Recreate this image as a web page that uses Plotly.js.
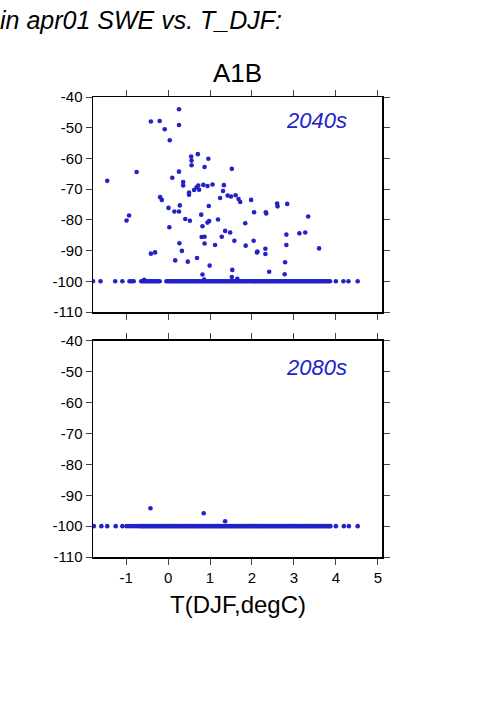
<!DOCTYPE html>
<html>
<head>
<meta charset="utf-8">
<script src="https://cdn.plot.ly/plotly-3.0.1.min.js"></script>
<style>html,body{margin:0;padding:0;background:#fff;}#chart{width:501px;height:709px;}</style>
</head>
<body>
<div id="chart"></div>
<script>
// ---- data ----
const floorValue = -100;

// 2040s: scattered points above the floor
const x2040 = [-1.45,-0.99,-0.93,-0.75,-0.57,-0.41,-0.20,-0.41,-0.31,-0.08,
  0.04,-0.19,-0.15,0.01,0.03,0.10,0.15,0.26,0.28,0.26,
  0.26,0.26,0.27,0.33,0.36,0.36,0.17,0.41,0.47,0.50,
  0.50,0.52,0.55,0.56,0.56,0.62,0.68,0.72,0.74,0.71,
  0.69,0.79,0.82,0.80,0.87,0.87,0.82,0.84,0.87,0.94,
  0.96,0.97,0.94,0.98,0.99,1.06,0.86,1.12,1.19,1.24,
  1.33,1.31,1.36,1.42,1.48,1.50,1.28,1.52,1.61,1.58,
  1.53,1.52,1.68,1.72,1.84,1.85,1.98,2.04,2.05,2.12,
  2.13,2.33,2.34,2.32,2.32,2.41,2.60,2.61,2.84,2.82,
  2.82,2.79,2.78,3.13,3.27,3.34,3.60,1.65];
const y2040 = [-67.3,-80.2,-78.6,-64.4,-99.5,-48.0,-47.8,-91.0,-90.6,-50.5,
  -54.1,-72.6,-73.5,-76.1,-82.4,-66.3,-77.3,-77.3,-75.3,-44.0,
  -49.1,-64.3,-87.6,-90.1,-67.7,-68.8,-93.2,-79.7,-93.6,-71.1,
  -71.8,-80.3,-59.4,-60.7,-62.2,-70.3,-69.4,-68.8,-70.2,-58.6,
  -92.4,-78.3,-82.1,-85.6,-85.5,-87.7,-97.8,-68.6,-62.8,-69.0,
  -60.1,-75.5,-80.9,-80.4,-94.9,-68.5,-99.4,-88.2,-79.9,-72.9,
  -68.7,-70.6,-83.6,-72.1,-84.1,-72.4,-85.5,-63.4,-72.0,-86.8,
  -96.3,-98.6,-73.2,-74.2,-81.1,-88.4,-73.5,-86.8,-77.5,-90.6,
  -90.3,-77.5,-77.9,-89.4,-91.1,-96.9,-74.7,-75.6,-74.8,-84.8,
  -88.2,-93.8,-97.7,-84.4,-84.1,-78.9,-89.3,-99.2];

// 2040s: points sitting on the -100 floor
const floorX2040 = [-1.79,-1.61,-1.26,-1.09,-0.92,-0.87,-0.82,-0.64,-0.6,-0.56,-0.53,-0.49,-0.45,-0.42,-0.38,-0.35,-0.31,-0.27,-0.24,-0.2,
  -0.04,0.0,0.03,0.07,0.1,0.14,0.18,0.21,0.25,0.28,0.32,0.36,0.39,0.43,0.46,0.5,0.54,0.57,0.61,0.65,0.68,0.72,0.75,0.79,0.83,0.86,0.9,0.94,0.97,
  1.01,1.04,1.08,1.12,1.15,1.19,1.22,1.26,1.3,1.33,1.37,1.41,1.44,1.48,1.51,1.55,1.59,1.62,1.66,1.7,1.73,1.77,1.8,1.84,1.88,1.91,1.95,1.99,
  2.02,2.06,2.09,2.13,2.17,2.2,2.24,2.27,2.31,2.35,2.38,2.42,2.46,2.49,2.53,2.56,2.6,2.64,2.67,2.71,2.75,2.78,2.82,2.85,2.89,2.93,2.96,
  3.0,3.03,3.07,3.11,3.14,3.18,3.22,3.25,3.29,3.33,3.36,3.4,3.44,3.47,3.51,3.55,3.58,3.62,3.66,3.7,3.74,3.78,3.82,3.86,4.0,4.18,4.3,4.52];

// 2080s
const x2080 = [-0.42, 0.85, 1.36];
const y2080 = [-94.2, -95.8, -98.4];
const floorX2080 = [-1.77,-1.59,-1.45,-1.25,-1.09,-0.99,-0.93,-0.87,-0.81,-0.75,-0.69,-0.65,-0.61,-0.58,-0.54,-0.5,-0.47,-0.43,-0.39,-0.36,
  -0.32,-0.28,-0.25,-0.21,-0.17,-0.14,-0.1,-0.06,-0.03,0.01,0.05,0.08,0.12,0.16,0.19,0.23,0.27,0.3,0.34,0.38,0.41,0.45,0.49,0.52,0.56,0.6,
  0.63,0.67,0.71,0.74,0.78,0.82,0.85,0.89,0.93,0.96,1.0,1.04,1.07,1.11,1.15,1.18,1.22,1.26,1.29,1.33,1.37,1.4,1.44,1.48,1.51,1.55,1.59,
  1.62,1.66,1.7,1.73,1.77,1.81,1.84,1.88,1.92,1.95,1.99,2.03,2.06,2.1,2.14,2.17,2.21,2.25,2.28,2.32,2.36,2.39,2.43,2.47,2.5,2.54,2.58,
  2.61,2.65,2.69,2.72,2.76,2.8,2.83,2.87,2.91,2.94,2.98,3.02,3.05,3.09,3.13,3.16,3.2,3.24,3.27,3.31,3.35,3.38,3.42,3.46,3.49,3.53,3.57,
  3.6,3.64,3.68,3.72,3.76,3.8,3.84,3.87,4.0,4.19,4.31,4.52];

const yTicks = [-110,-100,-90,-80,-70,-60,-50,-40];
const xTicks = [-1,0,1,2,3,4,5];
const panelLabels = ['2040s','2080s'];
const scenario = 'A1B';
const xLabel = 'T(DJF,degC)';
const topText = 'in apr01 SWE vs. T_DJF:';

// ---- drawing ----
const dotColor = '#2222c8';
const mk = {color: dotColor, size: 4.6};
const traces = [
  {x: floorX2040, y: new Array(floorX2040.length).fill(floorValue), xaxis:'x2', yaxis:'y', type:'scatter', mode:'markers', marker: mk, hoverinfo:'none'},
  {x: x2040, y: y2040, xaxis:'x2', yaxis:'y', type:'scatter', mode:'markers', marker: mk, hoverinfo:'none'},
  {x: floorX2080, y: new Array(floorX2080.length).fill(floorValue), xaxis:'x', yaxis:'y2', type:'scatter', mode:'markers', marker: mk, hoverinfo:'none'},
  {x: x2080, y: y2080, xaxis:'x', yaxis:'y2', type:'scatter', mode:'markers', marker: mk, hoverinfo:'none'}
];

const axBase = {
  showgrid:false, zeroline:false, showline:true, linecolor:'#000', linewidth:1.5,
  mirror:'ticks', ticks:'outside', ticklen:6, tickwidth:1, tickcolor:'#444',
  tickfont:{size:15, color:'#000'}
};
const xr = [-1.79, 5.1];
const yr = [-110, -40];

const layout = {
  width:501, height:709,
  margin:{l:93, r:119, t:97, b:152, pad:0},
  paper_bgcolor:'#fff', plot_bgcolor:'#fff',
  font:{family:'"Liberation Sans", Arial, Helvetica, sans-serif', color:'#000', size:15},
  showlegend:false,
  xaxis: Object.assign({}, axBase, {range:xr, tickvals:xTicks, ticktext:xTicks.map(String), anchor:'y2', domain:[0,1]}),
  xaxis2: Object.assign({}, axBase, {range:xr, tickvals:xTicks, showticklabels:false, anchor:'y', matches:'x', domain:[0,1]}),
  yaxis: Object.assign({}, axBase, {range:yr, tickvals:yTicks, ticktext:yTicks.map(String), domain:[0.5326,1], anchor:'x2'}),
  yaxis2: Object.assign({}, axBase, {range:yr, tickvals:yTicks, ticktext:yTicks.map(String), domain:[0,0.4696], anchor:'x'}),
  annotations:[
    {text:'<i>'+topText+'</i>', xref:'paper', yref:'paper', x:-0.327, y:1.167, xanchor:'left', yanchor:'middle', showarrow:false, font:{size:25}},
    {text:scenario, xref:'paper', yref:'paper', x:0.5, y:1.052, xanchor:'center', yanchor:'middle', showarrow:false, font:{size:26}},
    {text:'<i>'+panelLabels[0]+'</i>', xref:'x2 domain', yref:'y domain', x:0.885, y:0.892, xanchor:'right', yanchor:'middle', showarrow:false, font:{size:22, color:dotColor}},
    {text:'<i>'+panelLabels[1]+'</i>', xref:'x domain', yref:'y2 domain', x:0.885, y:0.878, xanchor:'right', yanchor:'middle', showarrow:false, font:{size:22, color:dotColor}},
    {text:xLabel, xref:'paper', yref:'paper', x:0.5, y:-0.104, xanchor:'center', yanchor:'middle', showarrow:false, font:{size:24}}
  ]
};

Plotly.newPlot('chart', traces, layout, {displayModeBar:false, staticPlot:true});
</script>
</body>
</html>
